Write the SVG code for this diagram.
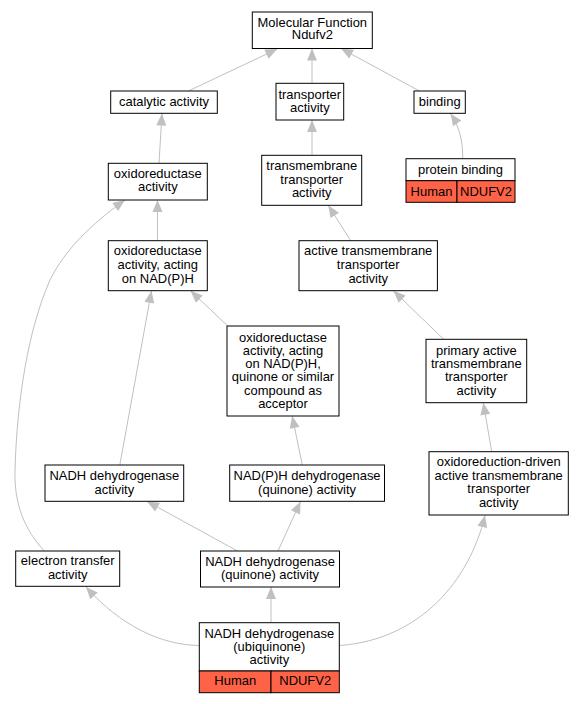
<svg xmlns="http://www.w3.org/2000/svg" width="584" height="704" viewBox="0 0 584 704">
<style>
.n{fill:#fff;stroke:#000;stroke-width:1}
.r{fill:#ff6347;stroke:#000;stroke-width:1}
.e{fill:none;stroke:#c0c0c0;stroke-width:1;marker-end:url(#a)}
text{font-family:"Liberation Sans",Arial,sans-serif;font-size:11.9px;text-anchor:middle;fill:#000}
</style>
<defs>
<marker id="a" markerUnits="userSpaceOnUse" markerWidth="12" markerHeight="10" refX="12" refY="5" orient="auto" overflow="visible">
<path d="M0,0 L12,5 L0,10 z" fill="#c0c0c0"/>
</marker>
</defs>
<rect width="584" height="704" fill="#fff"/>
<g id="edges">
<path class="e" d="M188.4,91 L277.3,49"/>
<path class="e" d="M312,83.3 L312,48.5"/>
<path class="e" d="M419.5,91 L341,48.5"/>
<path class="e" d="M462.7,158.7 C463,140 459,126 450.5,113.5"/>
<path class="e" d="M159,163.3 L162,113.5"/>
<path class="e" d="M312,155.3 L312,120"/>
<path class="e" d="M157.5,240.7 L157.5,200"/>
<path class="e" d="M44.3,551 C25,530 14,505 15,470 C17,400 28,330 50,280 C65,250 90,225 125,200"/>
<path class="e" d="M119.8,465 L151.5,290.8"/>
<path class="e" d="M227.8,326 L190.6,290.8"/>
<path class="e" d="M350.7,240.7 L328.3,205.3"/>
<path class="e" d="M443.7,339.3 L393.5,290.8"/>
<path class="e" d="M302.3,465 L292.2,416"/>
<path class="e" d="M491.7,451.7 L483.3,402.8"/>
<path class="e" d="M237.5,551 L147,501.4"/>
<path class="e" d="M278,551 L300.5,501.4"/>
<path class="e" d="M271,622.7 L271,587"/>
<path class="e" d="M199.3,645.5 C160,645 120,625 86,587"/>
<path class="e" d="M339.3,645.5 C420,640 470,580 485,515.2"/>
</g>
<g id="mf">
<rect class="n" x="252.3" y="12" width="120" height="36.5"/>
<g transform="translate(312.3 0) scale(1.09 1)">
<text y="26.6">Molecular Function</text>
<text y="39.3">Ndufv2</text>
</g>
</g>
<g id="catalytic">
<rect class="n" x="110.7" y="91" width="106.6" height="22.3"/>
<g transform="translate(164 0) scale(1.09 1)">
<text y="106.3">catalytic activity</text>
</g>
</g>
<g id="transporter">
<rect class="n" x="276" y="83.3" width="67.7" height="36.7"/>
<g transform="translate(309.8 0) scale(1.09 1)">
<text y="98.9">transporter</text>
<text y="111.9">activity</text>
</g>
</g>
<g id="binding">
<rect class="n" x="414" y="91" width="51.3" height="22.3"/>
<g transform="translate(439.7 0) scale(1.09 1)">
<text y="106.3">binding</text>
</g>
</g>
<g id="oxidoreductase">
<rect class="n" x="108.3" y="163.3" width="99" height="36.7"/>
<g transform="translate(157.8 0) scale(1.09 1)">
<text y="177.9">oxidoreductase</text>
<text y="191.3">activity</text>
</g>
</g>
<g id="transmembrane">
<rect class="n" x="261.7" y="155.3" width="100" height="50"/>
<g transform="translate(311.7 0) scale(1.09 1)">
<text y="170.3">transmembrane</text>
<text y="183.6">transporter</text>
<text y="197.3">activity</text>
</g>
</g>
<g id="proteinbinding">
<rect class="n" x="406" y="158.7" width="109" height="22"/>
<rect class="r" x="406" y="180.7" width="51" height="21.6"/>
<rect class="r" x="457" y="180.7" width="58" height="21.6"/>
<g transform="translate(460.5 0) scale(1.09 1)"><text y="173.9">protein binding</text></g>
<g transform="translate(431.5 0) scale(1.09 1)"><text y="195.6">Human</text></g>
<g transform="translate(486 0) scale(1.09 1)"><text y="195.6">NDUFV2</text></g>
</g>
<g id="actingnadph">
<rect class="n" x="108.3" y="240.7" width="99" height="50"/>
<g transform="translate(157.8 0) scale(1.09 1)">
<text y="255.3">oxidoreductase</text>
<text y="269.3">activity, acting</text>
<text y="282.6">on NAD(P)H</text>
</g>
</g>
<g id="activetm">
<rect class="n" x="299" y="240.7" width="138.4" height="50"/>
<g transform="translate(368.2 0) scale(1.09 1)">
<text y="255.3">active transmembrane</text>
<text y="269.3">transporter</text>
<text y="282.6">activity</text>
</g>
</g>
<g id="acceptor">
<rect class="n" x="227" y="326" width="112" height="90"/>
<g transform="translate(283 0) scale(1.09 1)">
<text y="341.6">oxidoreductase</text>
<text y="354.6">activity, acting</text>
<text y="367.9">on NAD(P)H,</text>
<text y="381.3">quinone or similar</text>
<text y="394.6">compound as</text>
<text y="407.9">acceptor</text>
</g>
</g>
<g id="primaryactive">
<rect class="n" x="426" y="339.3" width="100.7" height="63.4"/>
<g transform="translate(476.3 0) scale(1.09 1)">
<text y="355.3">primary active</text>
<text y="367.9">transmembrane</text>
<text y="381.3">transporter</text>
<text y="394.6">activity</text>
</g>
</g>
<g id="nadhdh">
<rect class="n" x="45" y="465" width="138.7" height="36.3"/>
<g transform="translate(114.3 0) scale(1.09 1)">
<text y="479.6">NADH dehydrogenase</text>
<text y="493.6">activity</text>
</g>
</g>
<g id="nadphdhq">
<rect class="n" x="229.7" y="465" width="154.8" height="36.3"/>
<g transform="translate(307.1 0) scale(1.09 1)">
<text y="479.6">NAD(P)H dehydrogenase</text>
<text y="493.6">(quinone) activity</text>
</g>
</g>
<g id="oxdriven">
<rect class="n" x="429" y="451.7" width="139.3" height="63.3"/>
<g transform="translate(498.7 0) scale(1.09 1)">
<text y="466.3">oxidoreduction-driven</text>
<text y="479.6">active transmembrane</text>
<text y="493.3">transporter</text>
<text y="506.6">activity</text>
</g>
</g>
<g id="electron">
<rect class="n" x="15.7" y="551" width="104" height="35.3"/>
<g transform="translate(67.7 0) scale(1.09 1)">
<text y="565.3">electron transfer</text>
<text y="578.6">activity</text>
</g>
</g>
<g id="nadhdhq">
<rect class="n" x="200.5" y="551" width="139" height="36"/>
<g transform="translate(270 0) scale(1.09 1)">
<text y="565.6">NADH dehydrogenase</text>
<text y="578.9">(quinone) activity</text>
</g>
</g>
<g id="ubiquinone">
<rect class="n" x="199.3" y="622.7" width="140" height="48.3"/>
<rect class="r" x="199.3" y="671" width="71.7" height="21.7"/>
<rect class="r" x="271" y="671" width="68.3" height="21.7"/>
<g transform="translate(269.3 0) scale(1.09 1)">
<text y="637.9">NADH dehydrogenase</text>
<text y="651.2">(ubiquinone)</text>
<text y="664.2">activity</text>
</g>
<g transform="translate(235.2 0) scale(1.09 1)"><text y="685">Human</text></g>
<g transform="translate(305.2 0) scale(1.09 1)"><text y="685">NDUFV2</text></g>
</g>
</svg>
